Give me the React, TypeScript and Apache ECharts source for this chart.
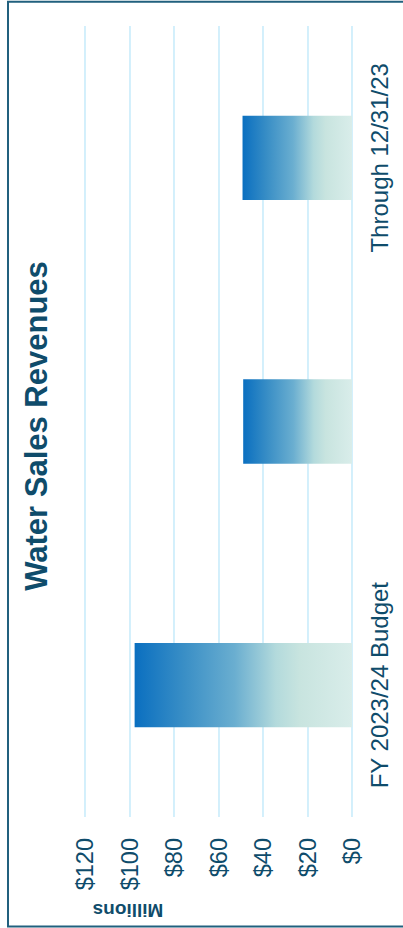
import React, { useEffect, useRef } from "react";
import * as echarts from "echarts";

const categories: string[] = ["FY 2023/24 Budget", "50% of Budget", "Through 12/31/23"];
const revenues: number[] = [97.7, 48.9, 49.2];
const valueTicks = { min: 0, max: 120, interval: 20 };
const titleText = "Water Sales Revenues";
const unitText = "Millions";

const TEXT_COLOR = "#0f4c6b";
const FONT = "'Liberation Sans', Arial, sans-serif";

export default function App() {
  const ref = useRef<HTMLDivElement>(null);

  useEffect(() => {
    if (!ref.current) return;
    const chart = echarts.init(ref.current, null, { renderer: "svg" });
    chart.setOption({
      animation: false,
      backgroundColor: "#ffffff",
      grid: { left: 85, right: 51, top: 26, bottom: 111, containLabel: false },
      xAxis: {
        type: "value",
        inverse: true,
        position: "bottom",
        min: valueTicks.min,
        max: valueTicks.max,
        interval: valueTicks.interval,
        axisLine: { show: false },
        axisTick: { show: false },
        splitLine: { show: true, lineStyle: { color: "#c9ecfb", width: 1.6 } },
        axisLabel: {
          rotate: 90,
          margin: 21,
          align: "right",
          verticalAlign: "middle",
          fontSize: 23.5,
          fontFamily: FONT,
          color: TEXT_COLOR,
          formatter: (v: number) => "$" + v,
        },
      },
      yAxis: {
        type: "category",
        data: categories,
        position: "right",
        axisLine: { show: false, onZero: false },
        axisTick: { show: false },
        splitLine: { show: false },
        axisLabel: {
          rotate: 90,
          margin: 15,
          align: "center",
          verticalAlign: "top",
          fontSize: 24,
          fontFamily: FONT,
          color: TEXT_COLOR,
        },
      },
      series: [
        {
          type: "bar",
          data: revenues,
          barWidth: "32%",
          itemStyle: {
            color: new echarts.graphic.LinearGradient(0, 0, 1, 0, [
              { offset: 0, color: "#0a6fc0" },
              { offset: 0.23, color: "#3a8fc6" },
              { offset: 0.46, color: "#6aaed0" },
              { offset: 0.65, color: "#b3dadc" },
              { offset: 0.76, color: "#c8e4df" },
              { offset: 1, color: "#d9edea" },
            ]),
          },
        },
      ],
      graphic: [
        {
          type: "rect",
          shape: { x: 8, y: 1.8, width: 420, height: 924.7 },
          style: { fill: "none", stroke: "#21607e", lineWidth: 2 },
          silent: true,
        },
        {
          type: "text",
          x: 36.5,
          y: 426,
          rotation: Math.PI / 2,
          style: {
            text: titleText,
            font: `bold 31px ${FONT}`,
            fill: TEXT_COLOR,
            align: "center",
            verticalAlign: "middle",
            textAlign: "center",
            textVerticalAlign: "middle",
          },
        },
        {
          type: "text",
          x: 128,
          y: 910,
          rotation: Math.PI,
          style: {
            text: unitText,
            font: `bold 19px ${FONT}`,
            fill: TEXT_COLOR,
            align: "center",
            verticalAlign: "middle",
            textAlign: "center",
            textVerticalAlign: "middle",
          },
        },
      ],
    });
    return () => chart.dispose();
  }, []);

  return (
    <div
      ref={ref}
      style={{ position: "absolute", left: 0, top: 0, width: 403, height: 928 }}
    />
  );
}
